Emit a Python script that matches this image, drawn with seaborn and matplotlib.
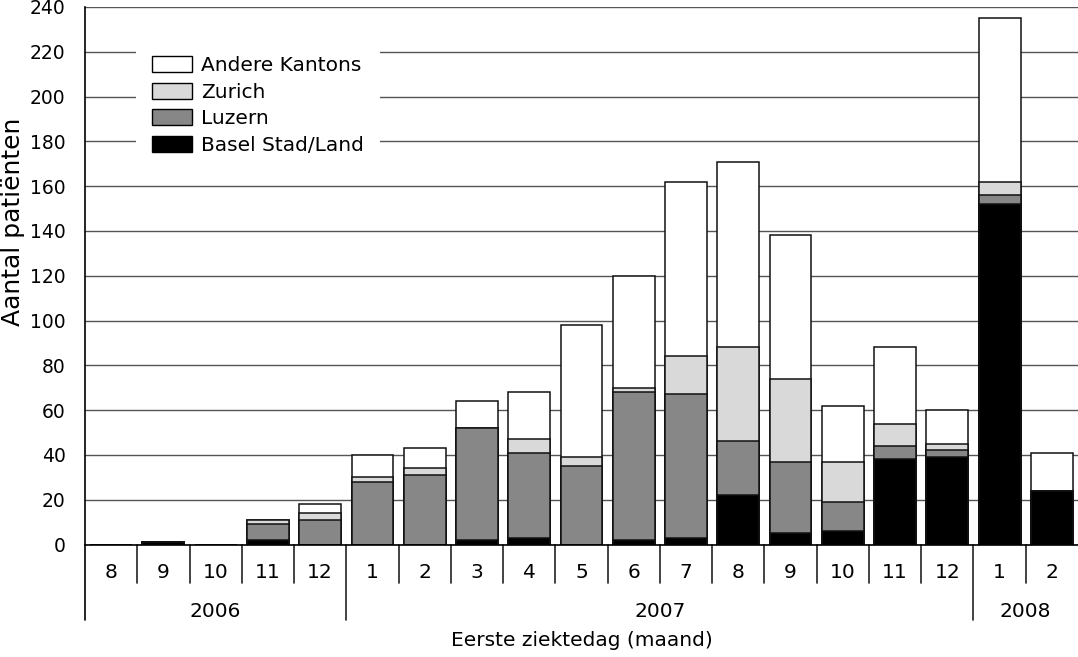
import pandas as pd
import matplotlib.pyplot as plt
import seaborn as sns
from matplotlib.patches import Patch

# Data (patients per month of first illness day)
maanden = ['8', '9', '10', '11', '12',
           '1', '2', '3', '4', '5', '6', '7', '8', '9', '10', '11', '12',
           '1', '2']
jaren = ['2006'] * 5 + ['2007'] * 12 + ['2008'] * 2
basel = [0, 1, 0, 2, 0, 0, 0, 2, 3, 0, 2, 3, 22, 5, 6, 38, 39, 152, 24]
luzern = [0, 0, 0, 7, 11, 28, 31, 50, 38, 35, 66, 64, 24, 32, 13, 6, 3, 4, 0]
zurich = [0, 0, 0, 2, 3, 2, 3, 0, 6, 4, 2, 17, 42, 37, 18, 10, 3, 6, 0]
andere = [0, 0, 0, 0, 4, 10, 9, 12, 21, 59, 50, 78, 83, 64, 25, 34, 15, 73, 17]

reeksen = ['Andere Kantons', 'Zurich', 'Luzern', 'Basel Stad/Land']
kleuren = ['white', '#d9d9d9', '#878787', 'black']

df = pd.DataFrame({'jaar': jaren, 'maand': maanden,
                   'basel': basel, 'luzern': luzern,
                   'zurich': zurich, 'andere': andere})
df['key'] = df['jaar'] + '-' + df['maand']
# cumulative heights, drawn tallest first so the stack shows
df['c_basel'] = df['basel']
df['c_luzern'] = df['c_basel'] + df['luzern']
df['c_zurich'] = df['c_luzern'] + df['zurich']
df['c_andere'] = df['c_zurich'] + df['andere']

sns.set_style("white")
plt.rcParams['font.family'] = ['DejaVu Sans']
plt.rcParams['text.color'] = 'black'
plt.rcParams['axes.labelcolor'] = 'black'
plt.rcParams['xtick.color'] = 'black'
plt.rcParams['ytick.color'] = 'black'
fs = 14.5

fig = plt.figure(figsize=(10.78, 6.57), dpi=100)
H, W = 657, 1078
y0, ytop, xl = 544.5, 7, 85
ax = fig.add_axes([xl / W, 1 - y0 / H, 1 - xl / W, (y0 - ytop) / H])

for col, kleur in zip(['c_andere', 'c_zurich', 'c_luzern', 'c_basel'], kleuren):
    sns.barplot(data=df, x='key', y=col, order=list(df['key']), color=kleur,
                saturation=1, width=0.8, errorbar=None, edgecolor='#111111',
                linewidth=1.1, ax=ax)

ax.set_xlim(-0.5, len(maanden) - 0.5)
ax.set_ylim(0, 240)
ax.set_yticks(range(0, 241, 20))
ax.yaxis.grid(True, color='#555555', linewidth=1.0)
ax.set_axisbelow(True)

for s in ['top', 'right']:
    ax.spines[s].set_visible(False)
ax.spines['left'].set_color('black')
ax.spines['left'].set_linewidth(1.2)
ax.spines['bottom'].set_color('black')
ax.spines['bottom'].set_linewidth(1.2)

ax.tick_params(axis='y', direction='out', length=6, width=1, color='#333333',
               pad=8, labelsize=13.5)
ax.set_xticks(range(len(maanden)))
ax.set_xticklabels(maanden)
ax.tick_params(axis='x', length=0, pad=13.5, labelsize=fs)

# month and year separators below the axis
tr = ax.get_xaxis_transform()
kort = -38.8 / (y0 - ytop)
lang = -75.5 / (y0 - ytop)
grenzen = [i for i in range(1, len(jaren)) if jaren[i] != jaren[i - 1]]
for i in range(1, len(maanden)):
    diepte = lang if i in grenzen else kort
    ax.plot([i - 0.5, i - 0.5], [0, diepte], color='#222222', lw=1.2,
            transform=tr, clip_on=False)
ax.plot([-0.5, -0.5], [0, lang], color='black', lw=1.2, transform=tr,
        clip_on=False)

# year labels
for jaar in dict.fromkeys(jaren):
    idx = [i for i, j in enumerate(jaren) if j == jaar]
    ax.text((idx[0] + idx[-1]) / 2, -67 / (y0 - ytop), jaar, ha='center',
            va='center', fontsize=fs, transform=tr)

ax.set_xlabel('Eerste ziektedag (maand)', fontsize=fs, labelpad=35)
ax.set_ylabel('Aantal patiënten', fontsize=18)
ax.yaxis.set_label_coords(-0.0605, 0.6)

handles = [Patch(facecolor=k, edgecolor='black', linewidth=1.0) for k in kleuren]
leg = ax.legend(handles, reeksen, loc='upper left',
                bbox_to_anchor=(0.0514, 0.9386), borderaxespad=0,
                borderpad=0.8, handlelength=2.0, handleheight=0.85,
                handletextpad=0.45, labelspacing=0.38, fontsize=fs,
                frameon=True, fancybox=False, framealpha=1)
leg.get_frame().set_facecolor('white')
leg.get_frame().set_edgecolor('none')

fig.savefig('out.png', dpi=100)
